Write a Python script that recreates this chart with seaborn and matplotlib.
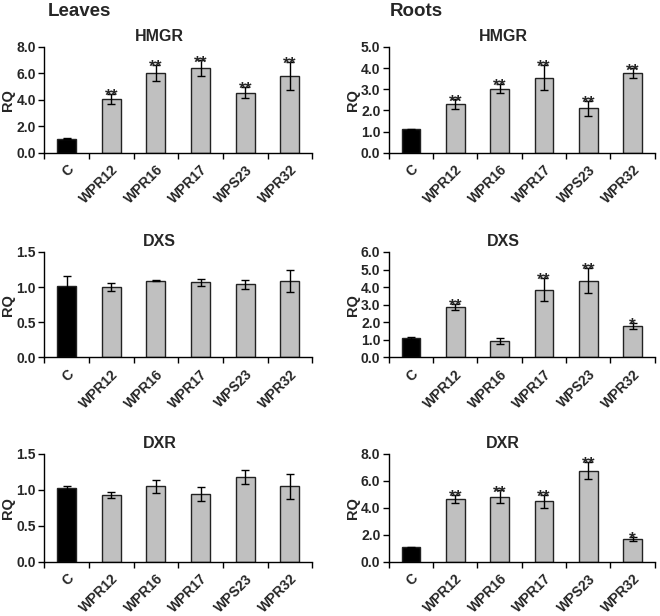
import matplotlib
matplotlib.use("Agg")
import matplotlib.pyplot as plt
import pandas as pd
import seaborn as sns
from matplotlib.ticker import FormatStrFormatter, MultipleLocator

# Amostras (eixo x comum a todos os painéis)
samples = ["C", "WPR12", "WPR16", "WPR17", "WPS23", "WPR32"]

# Folhas (Leaves)
leaves_hmgr = [1.05, 4.05, 6.05, 6.4, 4.55, 5.8]
leaves_hmgr_err = [0.03, 0.4, 0.6, 0.6, 0.43, 1.07]
leaves_hmgr_sig = ["", "**", "**", "**", "**", "**"]

leaves_dxs = [1.01, 1.0, 1.09, 1.07, 1.04, 1.09]
leaves_dxs_err = [0.15, 0.06, 0.005, 0.05, 0.065, 0.16]
leaves_dxs_sig = ["", "", "", "", "", ""]

leaves_dxr = [1.02, 0.93, 1.05, 0.94, 1.18, 1.05]
leaves_dxr_err = [0.03, 0.045, 0.09, 0.1, 0.1, 0.175]
leaves_dxr_sig = ["", "", "", "", "", ""]

# Raízes (Roots)
roots_hmgr = [1.1, 2.3, 3.03, 3.55, 2.1, 3.75]
roots_hmgr_err = [0.03, 0.23, 0.23, 0.6, 0.35, 0.23]
roots_hmgr_sig = ["", "**", "**", "**", "**", "**"]

roots_dxs = [1.1, 2.88, 0.9, 3.85, 4.37, 1.79]
roots_dxs_err = [0.04, 0.17, 0.17, 0.67, 0.73, 0.17]
roots_dxs_sig = ["", "**", "", "**", "**", "*"]

roots_dxr = [1.08, 4.68, 4.83, 4.48, 6.76, 1.7]
roots_dxr_err = [0.04, 0.3, 0.48, 0.48, 0.65, 0.15]
roots_dxr_sig = ["", "**", "**", "**", "**", "*"]

bar_colors = {s: ("black" if s == "C" else "#c0c0c0") for s in samples}

sns.set_style("white")
plt.rcParams["font.family"] = ["Liberation Sans", "DejaVu Sans"]
plt.rcParams["font.weight"] = "bold"


def draw_panel(ax, gene, values, errs, sig, ymax, step):
    df = pd.DataFrame({"sample": samples, "RQ": values})
    sns.barplot(data=df, x="sample", y="RQ", hue="sample", order=samples,
                palette=bar_colors, width=0.42, edgecolor="#222222",
                linewidth=1, legend=False, ax=ax)
    ax.errorbar(range(len(samples)), values, yerr=errs, fmt="none",
                ecolor="black", elinewidth=1, capsize=3, capthick=1)

    # Asteriscos de significância
    for i, s in enumerate(sig):
        if s:
            ax.annotate(s, (i, values[i] + errs[i]), xytext=(0, -2),
                        textcoords="offset points", ha="center", va="center",
                        fontsize=12.5, fontweight="bold")

    ax.set_xlim(-0.5, len(samples) - 0.5)
    ax.set_ylim(0, ymax)
    ax.yaxis.set_major_locator(MultipleLocator(step))
    ax.yaxis.set_major_formatter(FormatStrFormatter("%.1f"))

    ax.set_xticks(range(len(samples)))
    ax.set_xticklabels(samples, rotation=45, ha="right", va="top",
                       rotation_mode="anchor", fontsize=10, fontweight="bold")
    ax.set_xticks([i - 0.5 for i in range(len(samples) + 1)], minor=True)
    ax.tick_params(axis="x", which="major", length=0, pad=7)
    ax.tick_params(axis="x", which="minor", bottom=True, length=4, width=1,
                   color="black", direction="out")
    ax.tick_params(axis="y", left=True, length=4, width=1, color="black",
                   direction="out", labelsize=10, pad=2)
    for lab in ax.get_yticklabels():
        lab.set_fontweight("bold")

    ax.set_xlabel("")
    ax.set_ylabel("RQ", fontsize=10.5, fontweight="bold", labelpad=1)
    ax.set_title(gene, x=0.43, y=1.02, va="center", fontsize=11.5,
                 fontweight="bold")
    sns.despine(ax=ax)
    for side in ["left", "bottom"]:
        ax.spines[side].set_color("black")
        ax.spines[side].set_linewidth(1)


fig = plt.figure(figsize=(6.6, 6.16), dpi=100)

col_left = [0.067, 0.589]
col_width = [0.406, 0.403]
row_bottom = [0.752, 0.420, 0.088]
row_height = [0.172, 0.171, 0.175]

panels = [
    [("HMGR", leaves_hmgr, leaves_hmgr_err, leaves_hmgr_sig, 8, 2),
     ("HMGR", roots_hmgr, roots_hmgr_err, roots_hmgr_sig, 5, 1)],
    [("DXS", leaves_dxs, leaves_dxs_err, leaves_dxs_sig, 1.5, 0.5),
     ("DXS", roots_dxs, roots_dxs_err, roots_dxs_sig, 6, 1)],
    [("DXR", leaves_dxr, leaves_dxr_err, leaves_dxr_sig, 1.5, 0.5),
     ("DXR", roots_dxr, roots_dxr_err, roots_dxr_sig, 8, 2)],
]

for r in range(3):
    for c in range(2):
        ax = fig.add_axes([col_left[c], row_bottom[r], col_width[c], row_height[r]])
        draw_panel(ax, *panels[r][c])

fig.text(0.073, 0.982, "Leaves", ha="left", va="center", fontsize=13.5,
         fontweight="bold")
fig.text(0.591, 0.982, "Roots", ha="left", va="center", fontsize=13.5,
         fontweight="bold")

fig.savefig("out.png", dpi=100)
